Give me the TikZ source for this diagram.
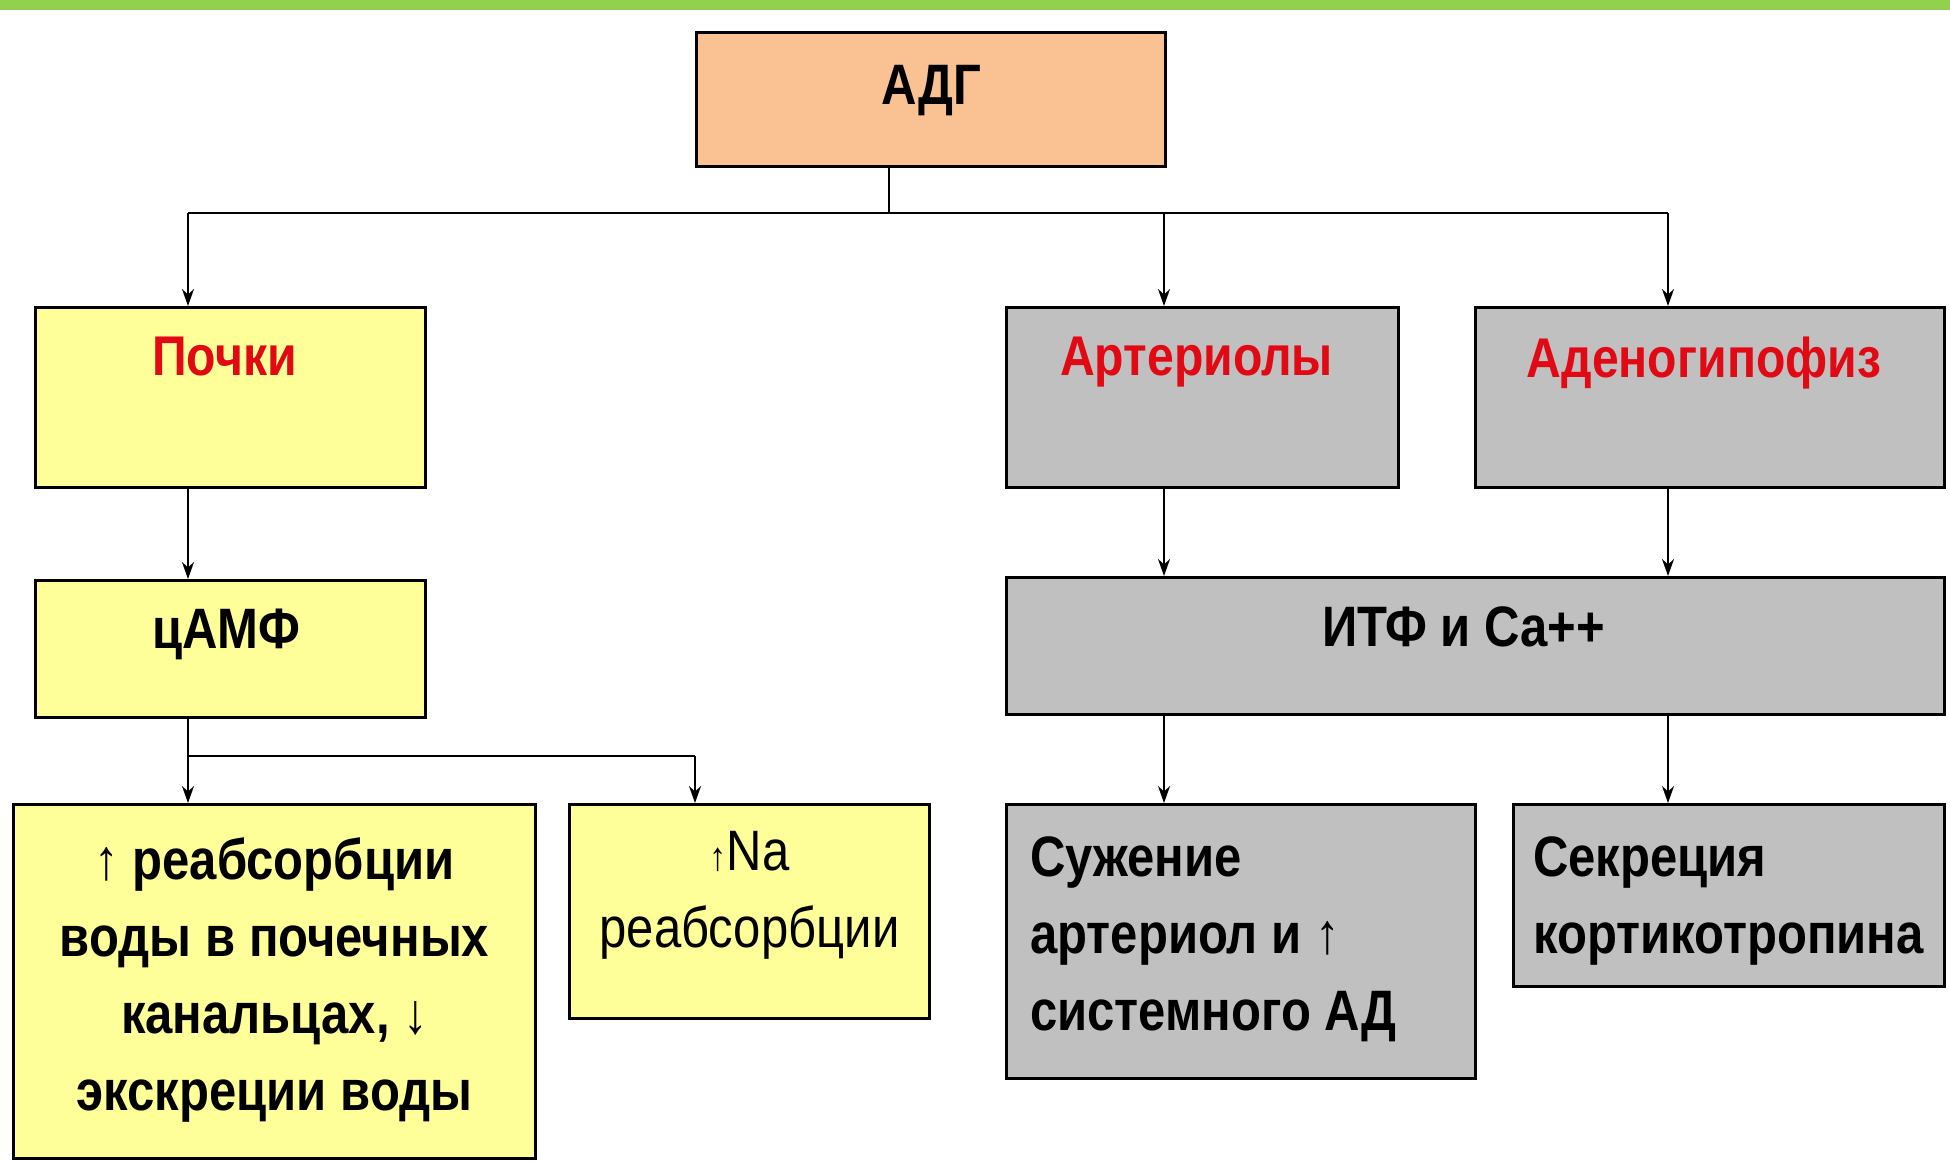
\documentclass[tikz,border=0pt]{standalone}
\usepackage{fontspec}
\setmainfont{Liberation Sans}[FakeStretch=0.86]
\usepackage{xcolor}
\usepackage{tikz}
\usetikzlibrary{positioning, arrows.meta}

\definecolor{barGreen}{RGB}{146,208,80}
\definecolor{peach}{RGB}{250,194,146}
\definecolor{paleYellow}{RGB}{255,255,153}
\definecolor{midGray}{RGB}{192,192,192}
\definecolor{headRed}{RGB}{225,10,20}

\begin{document}
\begin{tikzpicture}[
    x=1pt, y=-1pt,
    node distance=90pt,
    box/.style={rectangle, draw, line width=3pt, inner sep=0pt, anchor=north west},
    ybox/.style={box, fill=paleYellow},
    gbox/.style={box, fill=midGray},
    head/.style={font=\bfseries\fontsize{56}{70}\selectfont, text=headRed, inner sep=0pt},
    body/.style={font=\bfseries\fontsize{57}{77}\selectfont, align=center, inner sep=0pt},
    conn/.style={line width=2pt},
    arr/.style={conn, -{Stealth[length=17pt, width=12pt]}}
]
\useasboundingbox (0,0) rectangle (1950,1161);
\fill[barGreen] (0,0) rectangle (1950,10);

% Boxes
\node[box, fill=peach, minimum width=469pt, minimum height=134pt] (adg) at (695,31) {};
\node[ybox, minimum width=390pt, minimum height=180pt] (pochki) at (34,306) {};
\node[ybox, minimum width=390pt, minimum height=137pt, below=of pochki] (camp) {};
\node[ybox, minimum width=522pt, minimum height=354pt] (reabs) at (12,803) {};
\node[ybox, minimum width=360pt, minimum height=214pt] (na) at (568,803) {};
\node[gbox, minimum width=392pt, minimum height=180pt] (arter) at (1005,306) {};
\node[gbox, minimum width=469pt, minimum height=180pt] (adeno) at (1474,306) {};
\node[gbox, minimum width=938pt, minimum height=137pt] (itf) at (1005,576) {};
\node[gbox, minimum width=469pt, minimum height=274pt] (suzh) at (1005,803) {};
\node[gbox, minimum width=431pt, minimum height=182pt] (sekr) at (1512,803) {};

% Texts
\node[body, below=34pt of adg.north] (adgT) {АДГ};
\node[head, below=31pt of pochki.north, xshift=-6pt] (pochkiT) {Почки};
\node[body, below=30pt of camp.north, xshift=-4pt] (campT) {цАМФ};
\node[body, below=34pt of reabs.north] (reabsT) {↑ реабсорбции\\воды в почечных\\канальцах, ↓\\экскреции воды};
\node[body, below=28pt of na.north, font=\fontsize{57}{77}\selectfont] (naT) {{\fontsize{40}{40}\selectfont ↑}Na\\реабсорбции};
\node[head, below=31pt of arter.north, xshift=-6pt] (arterT) {Артериолы};
\node[head, below=31pt of adeno.north, xshift=-6pt] (adenoT) {Аденогипофиз};
\node[body, below=30pt of itf.north, xshift=-12pt] (itfT) {ИТФ и Са++};
\node[body, align=left, below right=33pt and 25pt of suzh.north west] (suzhT) {Сужение\\артериол и ↑\\системного АД};
\node[body, align=left, below right=33pt and 21pt of sekr.north west] (sekrT) {Секреция\\кортикотропина};

% Bus lines
\coordinate (busl) at (188,213);
\coordinate (stem) at (889,213);
\coordinate (busc) at (1164,213);
\coordinate (busr) at (1668,213);
\coordinate (fork) at (188,756);
\coordinate (forkr) at (695,756);

% Edges
\draw[conn] (adg.south -| stem) -- (stem);
\draw[conn] (busl) -- (busr);
\draw[arr] (busl) -- (pochki.north -| busl);
\draw[arr] (busc) -- (arter.north -| busc);
\draw[arr] (busr) -- (adeno.north -| busr);
\draw[arr] (pochki.south -| busl) -- (camp.north -| busl);
\draw[conn] (camp.south -| fork) -- (fork) -- (forkr);
\draw[arr] (fork) -- (reabs.north -| fork);
\draw[arr] (forkr) -- (na.north -| forkr);
\draw[arr] (arter.south -| busc) -- (itf.north -| busc);
\draw[arr] (adeno.south -| busr) -- (itf.north -| busr);
\draw[arr] (itf.south -| busc) -- (suzh.north -| busc);
\draw[arr] (itf.south -| busr) -- (sekr.north -| busr);

\end{tikzpicture}
\end{document}
